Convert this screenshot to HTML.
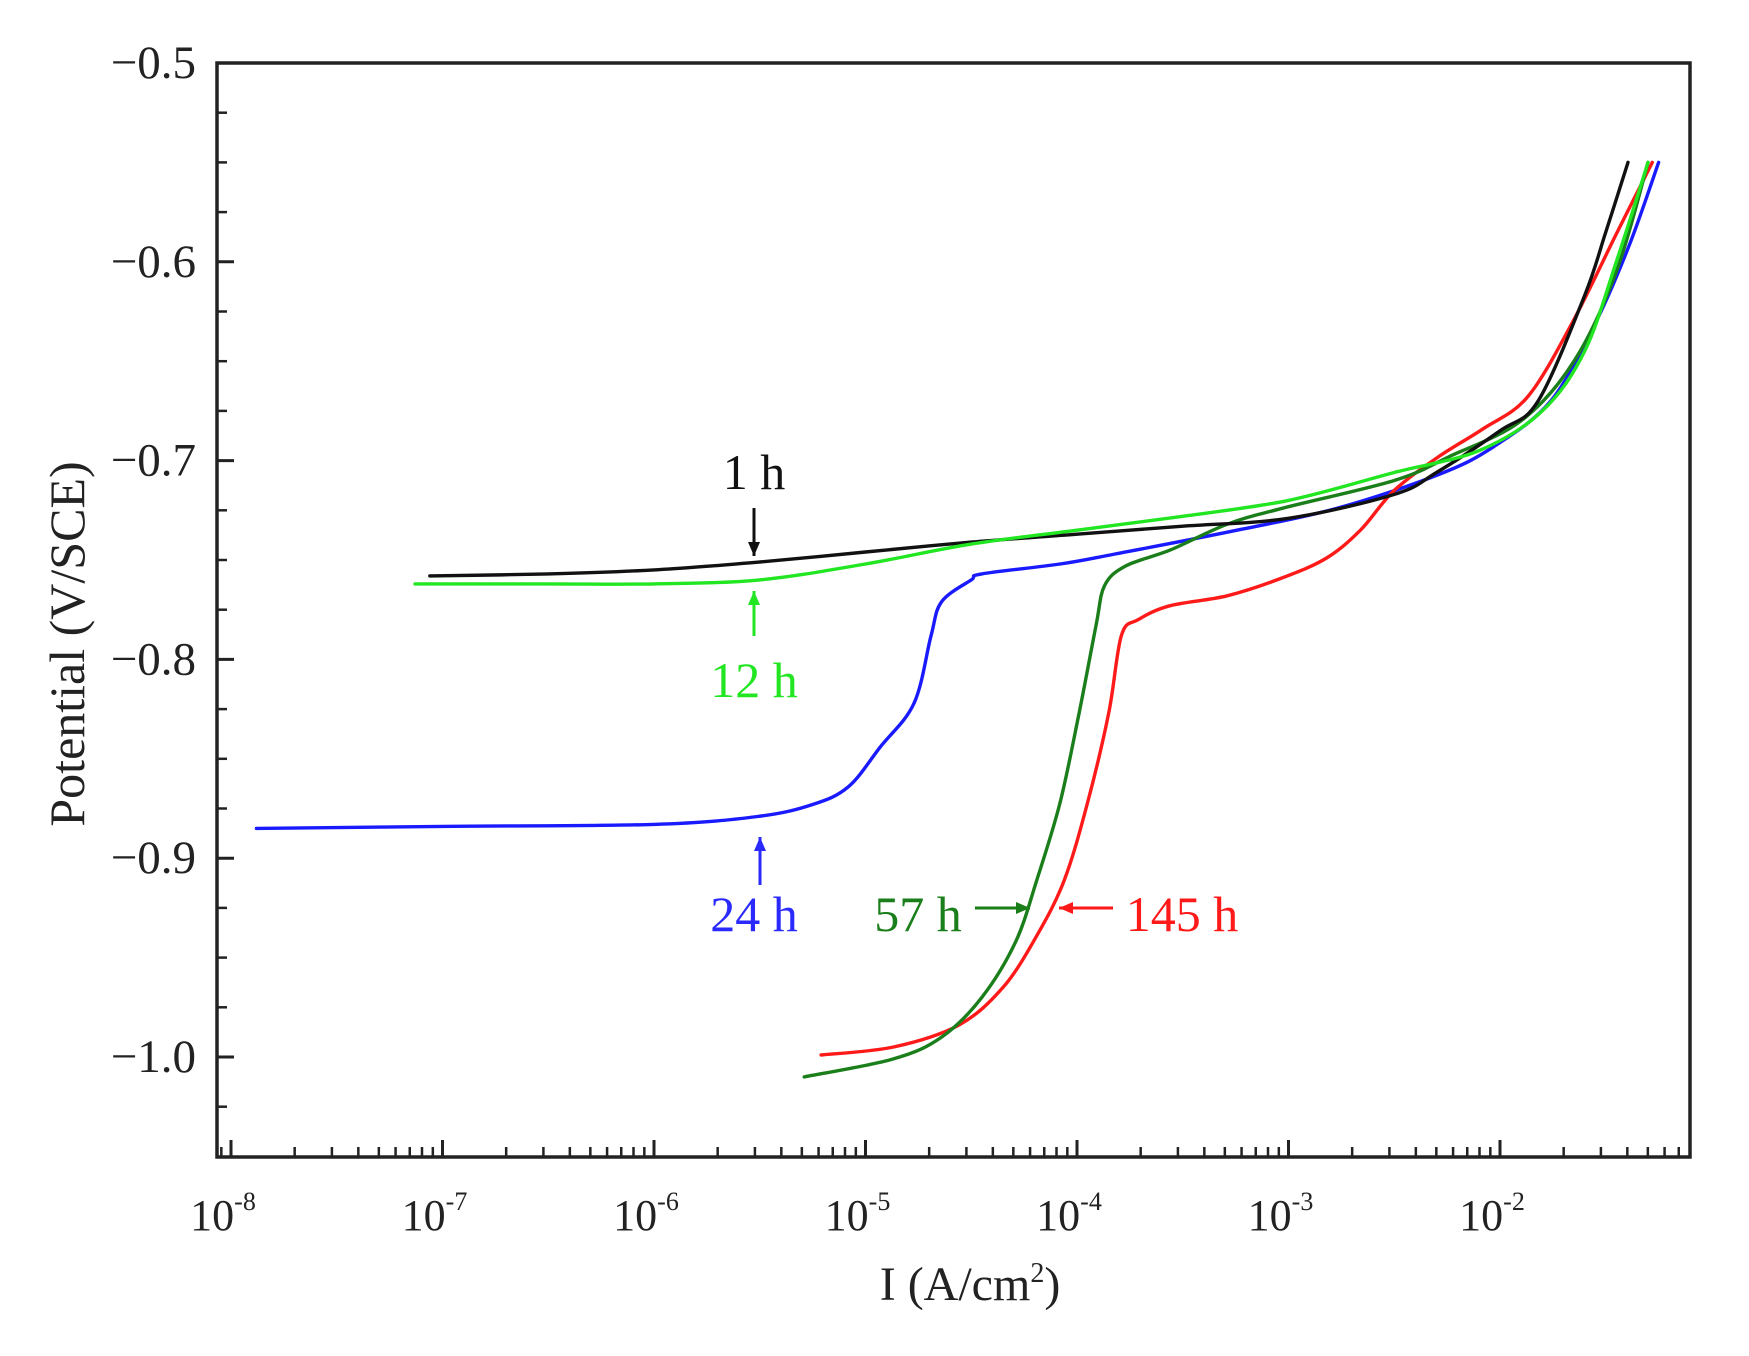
<!DOCTYPE html>
<html><head><meta charset="utf-8"><style>
html,body{margin:0;padding:0;background:#fff;}
svg{display:block;font-family:"Liberation Serif",serif;}
</style></head><body>
<svg id="chart" width="1749" height="1356" viewBox="0 0 1749 1356" xmlns="http://www.w3.org/2000/svg">
<rect x="0" y="0" width="1749" height="1356" fill="#fff"/>
<g id="marks"></g>
<rect x="217" y="63" width="1473" height="1094" fill="none" stroke="#222" stroke-width="3.5"/>
<g id="axes"></g>
<text transform="translate(84,644) rotate(-90)" text-anchor="middle" font-size="50" fill="#222">Potential (V/SCE)</text>
<text x="970" y="1300" text-anchor="middle" font-size="48" fill="#222">I (A/cm<tspan dy="-18" font-size="28">2</tspan><tspan dy="18">)</tspan></text>
</svg>
<script>
const xDecades = [-8,-7,-6,-5,-4,-3,-2];
const yTicks = [-0.5,-0.6,-0.7,-0.8,-0.9,-1.0];
const yTickLabels = ["\u22120.5","\u22120.6","\u22120.7","\u22120.8","\u22120.9","\u22121.0"];
const logI_1h = [-7.06,-6.5,-6,-5.5,-5,-4.5,-4,-3.5,-3,-2.5,-2.3,-2.0,-1.82,-1.6,-1.5,-1.395];
const E_1h = [-0.758,-0.757,-0.755,-0.751,-0.746,-0.741,-0.737,-0.733,-0.729,-0.717,-0.706,-0.685,-0.670,-0.617,-0.585,-0.55];
const logI_12h = [-7.13,-6.5,-6,-5.5,-5,-4.5,-4,-3.5,-3,-2.5,-2.1,-1.8,-1.6,-1.45,-1.30];
const E_12h = [-0.762,-0.762,-0.762,-0.760,-0.752,-0.742,-0.735,-0.728,-0.720,-0.706,-0.695,-0.675,-0.645,-0.600,-0.55];
const logI_24h = [-7.88,-7,-6,-5.51,-5.25,-5.08,-4.93,-4.77,-4.69,-4.64,-4.5,-4.45,-4.08,-3.82,-3.29,-2.77,-2.29,-2.03,-1.76,-1.55,-1.39,-1.25];
const E_24h = [-0.885,-0.884,-0.883,-0.879,-0.873,-0.864,-0.844,-0.822,-0.788,-0.771,-0.760,-0.757,-0.752,-0.747,-0.736,-0.724,-0.707,-0.693,-0.670,-0.631,-0.592,-0.55];
const logI_57h = [-5.29,-4.87,-4.64,-4.45,-4.29,-4.19,-4.08,-3.99,-3.91,-3.87,-3.77,-3.56,-3.29,-3.03,-2.5,-2.24,-1.9,-1.65,-1.45,-1.30];
const E_57h = [-1.010,-1.001,-0.990,-0.970,-0.942,-0.911,-0.872,-0.827,-0.783,-0.763,-0.753,-0.745,-0.732,-0.724,-0.710,-0.698,-0.680,-0.650,-0.605,-0.55];
const logI_145h = [-5.21,-4.87,-4.56,-4.35,-4.19,-4.06,-3.95,-3.85,-3.79,-3.71,-3.56,-3.29,-3.03,-2.82,-2.66,-2.5,-2.29,-2.08,-1.87,-1.66,-1.45,-1.28];
const E_145h = [-0.999,-0.995,-0.984,-0.965,-0.939,-0.911,-0.872,-0.827,-0.788,-0.780,-0.773,-0.768,-0.759,-0.749,-0.735,-0.715,-0.698,-0.684,-0.668,-0.631,-0.586,-0.55];

const NS = "http://www.w3.org/2000/svg";
function xs(l){ return 231 + (l + 8) * 211.5; }
function ys(e){ return 63 + (-0.5 - e) / 0.1 * 198.8; }
function mk(tag, attrs, parent){ const el = document.createElementNS(NS, tag); for (const k in attrs) el.setAttribute(k, attrs[k]); parent.appendChild(el); return el; }
const axes = document.getElementById('axes');
const marks = document.getElementById('marks');

xDecades.forEach(function(d){
  const t = mk('line',{x1:xs(d),x2:xs(d),y1:1157,y2:1140,stroke:'#222','stroke-width':3},axes);
  
  
  const lab = mk('text',{x:xs(d)-8,y:1230,'text-anchor':'middle','font-size':44,fill:'#222'},axes);
  
  
  lab.textContent = '10';
  const sup = mk('tspan',{dy:-20,'font-size':26},lab);
  sup.textContent = String(d);
  for (let m = 2; m <= 9; m++) {
    const lx = xs(d + Math.log10(m));
    if (lx < 219 || lx > 1688) continue;
    const mt = mk('line',{x1:lx,x2:lx,y1:1157,y2:1147,stroke:'#222','stroke-width':2.5},axes);
    
    
  }
});
[7,8,9].forEach(function(m){
  const lx = xs(-9 + Math.log10(m));
  if (lx < 219) return;
  const mt = mk('line',{x1:lx,x2:lx,y1:1157,y2:1147,stroke:'#222','stroke-width':2.5},axes);
  
  
});
yTicks.forEach(function(v,i){
  const t = mk('line',{x1:217,x2:234,y1:ys(v),y2:ys(v),stroke:'#222','stroke-width':3},axes);
  
  
  const lab = mk('text',{x:196,y:ys(v)+15,'text-anchor':'end','font-size':47,fill:'#222'},axes);
  
  
  lab.textContent = yTickLabels[i];
});
for (let k = 1; k <= 21; k++) {
  const v = -0.5 - k * 0.025;
  if (k % 4 === 0) continue;
  const mt = mk('line',{x1:217,x2:227,y1:ys(v),y2:ys(v),stroke:'#222','stroke-width':2.5},axes);
  
  
}
function series(lx, ev, color, name){
  const P = lx.map(function(l,i){ return [xs(l), ys(ev[i])]; });
  let d = 'M' + P[0][0].toFixed(1) + ',' + P[0][1].toFixed(1);
  for (let i = 0; i < P.length - 1; i++) {
    const p0 = P[Math.max(i-1,0)], p1 = P[i], p2 = P[i+1], p3 = P[Math.min(i+2,P.length-1)];
    const c1 = [p1[0] + (p2[0]-p0[0])/6, p1[1] + (p2[1]-p0[1])/6];
    const c2 = [p2[0] - (p3[0]-p1[0])/6, p2[1] - (p3[1]-p1[1])/6];
    d += 'C' + c1[0].toFixed(1) + ',' + c1[1].toFixed(1) + ' ' + c2[0].toFixed(1) + ',' + c2[1].toFixed(1) + ' ' + p2[0].toFixed(1) + ',' + p2[1].toFixed(1);
  }
  const p = mk('path',{d:d,fill:'none',stroke:color,'stroke-width':3.4,'stroke-linejoin':'round','stroke-linecap':'round'},marks);
  
  
}
series(logI_24h, E_24h, '#1a1aff', 'curve-24h');
series(logI_145h, E_145h, '#ff1a1a', 'curve-145h');
series(logI_57h, E_57h, '#1a7f1a', 'curve-57h');
series(logI_1h, E_1h, '#111111', 'curve-1h');
series(logI_12h, E_12h, '#22e622', 'curve-12h');

function arrow(x1,y1,x2,y2,color,name){
  const g = mk('g',{},marks);
  
  
  mk('line',{x1:x1,y1:y1,x2:x2,y2:y2,stroke:color,'stroke-width':3},g);
  const dx = x2-x1, dy = y2-y1, L = Math.hypot(dx,dy), ux = dx/L, uy = dy/L;
  const bx = x2-ux*14, by = y2-uy*14;
  mk('polygon',{points:x2+','+y2+' '+(bx-uy*6)+','+(by+ux*6)+' '+(bx+uy*6)+','+(by-ux*6),fill:color},g);
}
function label(x,y,txt,color,name){
  const t = mk('text',{x:x,y:y,'text-anchor':'middle','font-size':50,fill:color},marks);
  
  
  t.textContent = txt;
}
label(754,489,'1 h','#111','label-1h');
arrow(754,508,754,556,'#111','arrow-1h');
label(754,697,'12 h','#22e622','label-12h');
arrow(754,636,754,591,'#22e622','arrow-12h');
label(754,931,'24 h','#2a2aff','label-24h');
arrow(760,885,760,837,'#2a2aff','arrow-24h');
label(918,931,'57 h','#1a7f1a','label-57h');
arrow(975,908,1030,908,'#1a7f1a','arrow-57h');
label(1182,931,'145 h','#ff1a1a','label-145h');
arrow(1113,908,1059,908,'#ff1a1a','arrow-145h');
</script>
</body></html>
